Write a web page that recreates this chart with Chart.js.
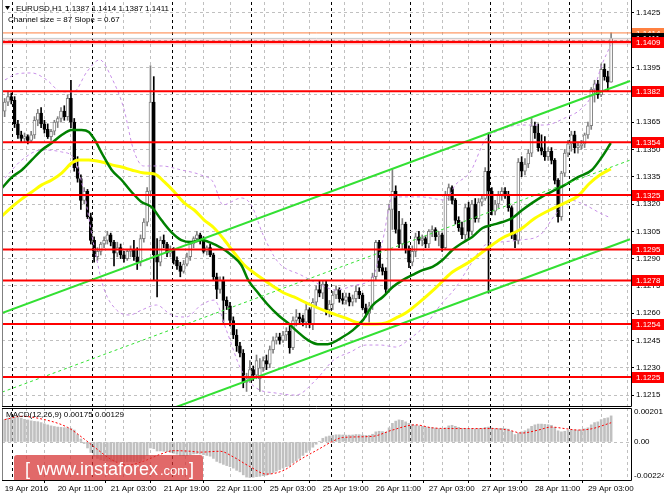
<!DOCTYPE html>
<html><head><meta charset="utf-8">
<script src="https://cdn.jsdelivr.net/npm/chart.js@4.4.1/dist/chart.umd.min.js"></script>
<style>
html,body{margin:0;padding:0;background:#fff;overflow:hidden}
#wrap{position:relative;width:664px;height:498px;background:#fff}
#c1{position:absolute;left:0;top:0}
#c2{position:absolute;left:0;top:407px}
</style></head><body>
<div id="wrap"><canvas id="c1" width="664" height="407"></canvas><canvas id="c2" width="664" height="91"></canvas></div>
<script>
// ---------- DATA ----------
const tickLabels = ['19 Apr 2016','20 Apr 11:00','21 Apr 03:00','21 Apr 19:00','22 Apr 11:00','25 Apr 03:00','25 Apr 19:00','26 Apr 11:00','27 Apr 03:00','27 Apr 19:00','28 Apr 11:00','29 Apr 03:00'];
const dayBreaks = [5,29,53,77,101,125,149,173];
const priceTicks = [1.1215,1.1230,1.1245,1.1260,1.1275,1.1290,1.1305,1.1320,1.1335,1.1350,1.1365,1.1380,1.1395,1.1410,1.1425];
const levels = [1.1409,1.1382,1.1354,1.1325,1.1295,1.1278,1.1254,1.1225];
const dayHigh = 1.1414;
const bidPrice = 1.1411;

const opens = [
1.1371,1.1376,1.1379,1.1377,1.1364,1.1358,1.1356,1.1357,1.1355,1.1358,
1.1366,1.1370,1.1364,1.1361,1.1357,1.1360,1.1365,1.1367,1.1371,1.1368,
1.1378,1.1365,1.1340,1.1334,1.1322,1.1327,1.1313,1.1300,1.1291,1.1294,
1.1298,1.1300,1.1303,1.1299,1.1293,1.1296,1.1292,1.1290,1.1294,1.1295,
1.1291,1.1288,1.1301,1.1310,1.1327,1.1376,1.1292,1.1288,1.1300,1.1298,
1.1293,1.1295,1.1289,1.1286,1.1283,1.1287,1.1291,1.1298,1.1301,1.1303,
1.1300,1.1294,1.1296,1.1292,1.1280,1.1273,1.1278,1.1267,1.1264,1.1256,
1.1248,1.1242,1.1238,1.1222,1.1224,1.1229,1.1226,1.1224,1.1230,1.1234,
1.1232,1.1240,1.1245,1.1247,1.1245,1.1248,1.1250,1.1241,1.1256,1.1258,
1.1257,1.1255,1.1262,1.1254,1.1266,1.1273,1.1271,1.1276,1.1262,1.1265,
1.1270,1.1273,1.1268,1.1267,1.1269,1.1266,1.1268,1.1272,1.1270,1.1263,
1.1260,1.1264,1.1280,1.1299,1.1285,1.1283,1.1273,1.1317,1.1327,1.1306,
1.1298,1.1309,1.1295,1.1288,1.1294,1.1302,1.1300,1.1301,1.1298,1.1305,
1.1306,1.1302,1.1303,1.1296,1.1325,1.1329,1.1322,1.1311,1.1307,1.1303,
1.1318,1.1305,1.1320,1.1312,1.1321,1.1323,1.1338,1.1327,1.1316,1.1320,
1.1325,1.1327,1.1325,1.1318,1.1303,1.1300,1.1343,1.1338,1.1342,1.1348,
1.1363,1.1359,1.1351,1.1349,1.1346,1.1349,1.1344,1.1333,1.1313,1.1337,
1.1348,1.1353,1.1358,1.1351,1.1352,1.1353,1.1358,1.1363,1.1383,1.1386,
1.1380,1.1394,1.1390,1.1387];
const highs = [
1.1378,1.1382,1.1381,1.1379,1.1366,1.1360,1.1359,1.1358,1.1360,1.1368,
1.1372,1.1373,1.1366,1.1364,1.1361,1.1366,1.1368,1.1373,1.1374,1.1380,
1.1388,1.1367,1.1346,1.1336,1.1329,1.1328,1.1315,1.1302,1.1296,1.1299,
1.1302,1.1305,1.1304,1.1300,1.1299,1.1298,1.1294,1.1295,1.1297,1.1300,
1.1296,1.1303,1.1312,1.1329,1.1396,1.1390,1.1301,1.1302,1.1303,1.1299,
1.1297,1.1296,1.1291,1.1288,1.1289,1.1293,1.1299,1.1302,1.1305,1.1304,
1.1302,1.1297,1.1298,1.1293,1.1282,1.1280,1.1280,1.1269,1.1266,1.1258,
1.1251,1.1244,1.1240,1.1227,1.1234,1.1231,1.1237,1.1235,1.1236,1.1237,
1.1242,1.1247,1.1249,1.1249,1.1250,1.1252,1.1253,1.1258,1.1262,1.1260,
1.1259,1.1266,1.1263,1.1268,1.1275,1.1278,1.1278,1.1278,1.1267,1.1272,
1.1275,1.1274,1.1271,1.1271,1.1271,1.1270,1.1275,1.1274,1.1271,1.1265,
1.1266,1.1282,1.1300,1.1300,1.1287,1.1285,1.1320,1.1339,1.1330,1.1316,
1.1312,1.1310,1.1297,1.1297,1.1304,1.1305,1.1303,1.1302,1.1306,1.1308,
1.1307,1.1305,1.1304,1.1327,1.1331,1.1330,1.1323,1.1313,1.1310,1.1320,
1.1321,1.1322,1.1323,1.1323,1.1325,1.1340,1.1359,1.1329,1.1322,1.1327,
1.1329,1.1329,1.1327,1.1319,1.1305,1.1345,1.1346,1.1345,1.1350,1.1367,
1.1365,1.1364,1.1358,1.1357,1.1351,1.1351,1.1345,1.1334,1.1338,1.1350,
1.1355,1.1360,1.1360,1.1354,1.1355,1.1359,1.1365,1.1384,1.1388,1.1388,
1.1397,1.1397,1.1393,1.1414];
const lows = [
1.1368,1.1374,1.1375,1.1362,1.1356,1.1354,1.1354,1.1353,1.1354,1.1356,
1.1363,1.1362,1.1359,1.1356,1.1355,1.1358,1.1362,1.1365,1.1366,1.1366,
1.1362,1.1338,1.1332,1.1317,1.1320,1.1312,1.1298,1.1288,1.1289,1.1292,
1.1296,1.1298,1.1297,1.1286,1.1291,1.1290,1.1288,1.1289,1.1291,1.1289,
1.1284,1.1286,1.1299,1.1308,1.1325,1.1278,1.1269,1.1286,1.1296,1.1291,
1.1291,1.1287,1.1284,1.1280,1.1282,1.1286,1.1289,1.1296,1.1299,1.1298,
1.1293,1.1292,1.1291,1.1278,1.1268,1.1271,1.1255,1.1262,1.1253,1.1246,
1.1239,1.1236,1.1219,1.1217,1.1222,1.1223,1.1224,1.1217,1.1228,1.1229,
1.1230,1.1238,1.1243,1.1243,1.1244,1.1245,1.1238,1.1240,1.1253,1.1254,
1.1253,1.1252,1.1252,1.1251,1.1264,1.1269,1.1268,1.1259,1.1258,1.1262,
1.1268,1.1266,1.1265,1.1265,1.1264,1.1264,1.1266,1.1268,1.1262,1.1258,
1.1255,1.1262,1.1278,1.1283,1.1281,1.1271,1.1272,1.1306,1.1304,1.1296,
1.1295,1.1293,1.1285,1.1286,1.1291,1.1298,1.1297,1.1296,1.1296,1.1302,
1.1300,1.1297,1.1294,1.1295,1.1322,1.1320,1.1309,1.1305,1.1301,1.1300,
1.1301,1.1303,1.1310,1.1310,1.1319,1.1322,1.1271,1.1314,1.1314,1.1318,
1.1322,1.1323,1.1316,1.1301,1.1296,1.1298,1.1335,1.1336,1.1340,1.1346,
1.1356,1.1349,1.1347,1.1344,1.1344,1.1342,1.1331,1.1310,1.1311,1.1335,
1.1346,1.1349,1.1348,1.1348,1.1350,1.1351,1.1356,1.1361,1.1376,1.1378,
1.1379,1.1388,1.1382,1.1387];
const closes = [
1.1376,1.1379,1.1377,1.1364,1.1358,1.1356,1.1357,1.1355,1.1358,1.1366,
1.1370,1.1364,1.1361,1.1357,1.1360,1.1365,1.1367,1.1371,1.1368,1.1378,
1.1365,1.1340,1.1334,1.1322,1.1327,1.1313,1.1300,1.1291,1.1294,1.1298,
1.1300,1.1303,1.1299,1.1293,1.1296,1.1292,1.1290,1.1294,1.1295,1.1291,
1.1288,1.1301,1.1310,1.1327,1.1376,1.1292,1.1288,1.1300,1.1298,1.1293,
1.1295,1.1289,1.1286,1.1283,1.1287,1.1291,1.1298,1.1301,1.1303,1.1300,
1.1294,1.1296,1.1292,1.1280,1.1273,1.1278,1.1267,1.1264,1.1256,1.1248,
1.1242,1.1238,1.1222,1.1224,1.1229,1.1226,1.1234,1.1230,1.1234,1.1232,
1.1240,1.1245,1.1247,1.1245,1.1248,1.1250,1.1241,1.1256,1.1258,1.1257,
1.1255,1.1262,1.1254,1.1266,1.1273,1.1271,1.1276,1.1262,1.1265,1.1270,
1.1273,1.1268,1.1267,1.1269,1.1266,1.1268,1.1272,1.1270,1.1263,1.1260,
1.1264,1.1280,1.1299,1.1285,1.1283,1.1273,1.1317,1.1327,1.1306,1.1298,
1.1309,1.1295,1.1288,1.1294,1.1302,1.1300,1.1301,1.1298,1.1305,1.1306,
1.1302,1.1303,1.1296,1.1325,1.1329,1.1322,1.1311,1.1307,1.1303,1.1318,
1.1305,1.1320,1.1312,1.1321,1.1323,1.1338,1.1327,1.1316,1.1320,1.1325,
1.1327,1.1325,1.1318,1.1303,1.1300,1.1343,1.1338,1.1342,1.1348,1.1363,
1.1359,1.1351,1.1349,1.1346,1.1349,1.1344,1.1333,1.1313,1.1337,1.1348,
1.1353,1.1358,1.1351,1.1352,1.1353,1.1358,1.1363,1.1383,1.1386,1.1380,
1.1394,1.1390,1.1387,1.1411];

// moving averages and bands: [bar index, price]
const maGreen = [[-0.8,1.13288],[2.2,1.13348],[5.2,1.13387],[8.2,1.13442],[11.2,1.13497],[14.2,1.13535],[17.2,1.13579],[20.2,1.13607],[23.2,1.13607],[25.4,1.13596],[27.2,1.13552],[29.3,1.13480],[32.3,1.13387],[35.3,1.13332],[38.3,1.13266],[41.3,1.13211],[44.3,1.13184],[47.3,1.13112],[50.3,1.13046],[53.3,1.13002],[56.3,1.12991],[59.3,1.13002],[62.3,1.12986],[65.4,1.12958],[68.4,1.12920],[71.4,1.12865],[73.5,1.12782],[76.5,1.12711],[79.5,1.12645],[82.5,1.12590],[85.5,1.12546],[88.5,1.12496],[91.5,1.12452],[94.5,1.12430],[97.5,1.12430],[102.0,1.12469],[105.1,1.12507],[108.1,1.12562],[111.1,1.12645],[114.1,1.12689],[117.1,1.12744],[120.1,1.12782],[123.1,1.12810],[126.1,1.12837],[129.1,1.12854],[132.1,1.12892],[135.1,1.12947],[138.1,1.12986],[141.1,1.13019],[144.2,1.13068],[147.2,1.13085],[150.2,1.13101],[153.2,1.13123],[156.2,1.13167],[159.2,1.13206],[163.1,1.13250],[166.1,1.13277],[169.1,1.13305],[173.0,1.13348],[177.2,1.13387],[180.2,1.13458],[182.9,1.13535]];
const maYellow = [[-0.8,1.13134],[2.2,1.13184],[5.2,1.13228],[8.2,1.13266],[11.2,1.13305],[14.2,1.13332],[17.2,1.13370],[20.2,1.13425],[22.3,1.13442],[25.4,1.13442],[29.3,1.13431],[32.3,1.13415],[35.3,1.13403],[38.3,1.13387],[42.2,1.13370],[45.2,1.13365],[48.2,1.13321],[51.2,1.13266],[54.2,1.13206],[57.2,1.13167],[60.2,1.13112],[63.2,1.13068],[66.3,1.13002],[69.3,1.12931],[72.3,1.12865],[75.3,1.12821],[78.3,1.12782],[81.3,1.12744],[84.3,1.12711],[87.3,1.12689],[92.4,1.12645],[98.4,1.12601],[103.0,1.12573],[106.0,1.12551],[109.0,1.12540],[112.0,1.12540],[115.0,1.12546],[118.0,1.12573],[121.0,1.12601],[125.2,1.12661],[130.0,1.12738],[135.1,1.12826],[140.2,1.12881],[145.0,1.12947],[150.2,1.13013],[155.3,1.13057],[160.1,1.13123],[165.2,1.13173],[169.1,1.13206],[173.0,1.13244],[176.3,1.13310],[179.6,1.13359],[182.9,1.13392]];
const bandUpper = [[0.1,1.13882],[3.7,1.13915],[8.2,1.13920],[12.7,1.13882],[17.2,1.13816],[20.8,1.13816],[24.8,1.13926],[28.7,1.13992],[32.3,1.13893],[35.9,1.13728],[38.9,1.13497],[41.9,1.13409],[47.3,1.13409],[53.3,1.13387],[59.3,1.13359],[62.9,1.13321],[65.9,1.13195],[71.4,1.13233],[74.4,1.13195],[78.0,1.13030],[82.5,1.12881],[89.4,1.12810],[95.4,1.12755],[100.0,1.12727],[106.0,1.12755],[111.1,1.12799],[114.1,1.13002],[117.1,1.13239],[125.5,1.13239],[133.0,1.13222],[136.0,1.13305],[140.5,1.13376],[145.0,1.13552],[149.6,1.13607],[155.6,1.13634],[163.1,1.13634],[169.1,1.13673],[173.6,1.13717],[177.2,1.13799],[180.2,1.13964],[182.9,1.14074]];
const bandLower = [[0.1,1.13343],[5.2,1.13442],[11.2,1.13497],[17.2,1.13486],[20.8,1.13453],[23.8,1.13277],[26.9,1.12975],[29.9,1.12738],[33.8,1.12617],[37.7,1.12590],[41.3,1.12617],[45.8,1.12645],[50.3,1.12590],[54.8,1.12579],[59.3,1.12645],[63.2,1.12672],[66.9,1.12507],[71.4,1.12288],[75.9,1.12189],[81.9,1.12161],[87.9,1.12150],[93.9,1.12233],[99.3,1.12343],[104.4,1.12387],[109.0,1.12425],[113.5,1.12425],[118.0,1.12414],[122.5,1.12463],[127.0,1.12535],[131.5,1.12645],[136.0,1.12738],[140.5,1.12865],[145.0,1.12975],[149.6,1.12991],[155.6,1.13002],[161.6,1.13030],[166.1,1.13140],[170.6,1.13222],[175.1,1.13195],[179.6,1.13151],[182.9,1.13123]];
// regression channel (size 87, slope 0.67)
const channelUpper = [[-0.8,1.12601],[188.7,1.13876]];
const channelMiddle = [[-0.8,1.12166],[188.7,1.13441]];
const channelLower = [[-0.8,1.11731],[188.7,1.13006]];

const macdHist = [
0.00150,0.00160,0.00165,0.00168,0.00165,0.00160,0.00152,0.00148,0.00142,0.00138,
0.00136,0.00130,0.00122,0.00115,0.00108,0.00104,0.00100,0.00098,0.00096,0.00095,
0.00092,0.00080,0.00050,0.00020,-0.00010,-0.00040,-0.00070,-0.00095,-0.00110,-0.00120,
-0.00125,-0.00128,-0.00130,-0.00132,-0.00133,-0.00134,-0.00133,-0.00132,-0.00131,-0.00132,
-0.00134,-0.00130,-0.00115,-0.00090,-0.00040,-0.00045,-0.00060,-0.00060,-0.00062,-0.00065,
-0.00070,-0.00075,-0.00082,-0.00090,-0.00092,-0.00090,-0.00085,-0.00080,-0.00078,-0.00080,
-0.00085,-0.00090,-0.00095,-0.00110,-0.00130,-0.00140,-0.00150,-0.00158,-0.00165,-0.00175,
-0.00190,-0.00200,-0.00220,-0.00235,-0.00238,-0.00236,-0.00232,-0.00230,-0.00226,-0.00222,
-0.00215,-0.00205,-0.00195,-0.00185,-0.00175,-0.00165,-0.00160,-0.00140,-0.00125,-0.00110,
-0.00090,-0.00070,-0.00055,-0.00035,-0.00015,0.00005,0.00025,0.00035,0.00040,0.00045,
0.00048,0.00048,0.00047,0.00046,0.00046,0.00047,0.00050,0.00049,0.00046,0.00044,
0.00045,0.00052,0.00068,0.00072,0.00070,0.00066,0.00095,0.00125,0.00140,0.00148,
0.00145,0.00135,0.00125,0.00118,0.00112,0.00108,0.00105,0.00100,0.00098,0.00096,
0.00093,0.00090,0.00085,0.00095,0.00108,0.00112,0.00105,0.00098,0.00092,0.00092,
0.00088,0.00090,0.00088,0.00090,0.00092,0.00098,0.00100,0.00094,0.00090,0.00090,
0.00091,0.00090,0.00086,0.00072,0.00050,0.00060,0.00068,0.00075,0.00088,0.00105,
0.00115,0.00120,0.00120,0.00118,0.00116,0.00112,0.00098,0.00075,0.00068,0.00072,
0.00078,0.00082,0.00082,0.00080,0.00082,0.00088,0.00095,0.00115,0.00130,0.00135,
0.00150,0.00158,0.00162,0.00175];
const macdSignal = [[0,0.00150],[5,0.00172],[11,0.00155],[19,0.00098],[24,0.00020],[28,-0.00050],[32,-0.00115],[37,-0.00155],[42,-0.00128],[47,-0.00082],[51,-0.00058],[56,-0.00062],[59,-0.00068],[65,-0.00062],[69,-0.00100],[74,-0.00165],[79,-0.00215],[84,-0.00192],[89,-0.00120],[95,-0.00045],[99,0.00005],[102,0.00030],[111,0.00038],[117,0.00080],[124,0.00115],[129,0.00095],[135,0.00090],[147,0.00090],[152,0.00080],[156,0.00060],[161,0.00080],[165,0.00100],[169,0.00090],[173,0.00080],[177,0.00088],[183,0.00129]];
const macdTicks = [-0.00224, 0, 0.00201];

// ---------- HELPERS ----------
const FONT = 'Liberation Sans';
const X_MIN = -0.8, X_MAX = 189;
const gridTicks = [];
for (let v = 0; v <= 184; v += 8) gridTicks.push(v);
dayBreaks.forEach(v => { if (!gridTicks.includes(v)) gridTicks.push(v); });
gridTicks.sort((a, b) => a - b);
const pts = arr => arr.map(p => ({x: p[0], y: p[1]}));
const isBull = i => closes[i] >= opens[i];
const noPad = s => { s.paddingTop = 0; s.paddingBottom = 0; s.paddingLeft = 0; s.paddingRight = 0; };

function xScale(withLabels) {
  return {
    type: 'linear', min: X_MIN, max: X_MAX, offset: false,
    afterBuildTicks: s => { s.ticks = gridTicks.map(v => ({value: v})); },
    afterFit: s => { s.height = withLabels ? 18 : 0; noPad(s); },
    ticks: withLabels ? {
      display: true, autoSkip: false, maxRotation: 0, minRotation: 0, align: 'start', padding: 1,
      color: '#000', font: {family: FONT, size: 8},
      callback: v => (v % 16 === 0 && v / 16 < tickLabels.length) ? tickLabels[v / 16] : ''
    } : {display: false},
    grid: {
      drawTicks: withLabels, tickLength: 3, tickWidth: 1,
      tickColor: ctx => (ctx.tick && ctx.tick.value % 16 === 0) ? '#000' : 'rgba(0,0,0,0)',
      color: ctx => (ctx.tick && dayBreaks.includes(ctx.tick.value)) ? '#000000' : '#c0c0c0',
      lineWidth: 1
    },
    border: {display: false, dash: [3, 3]}
  };
}

const framePlugin = {
  id: 'frame',
  afterDraw(chart) {
    const {ctx, chartArea: a} = chart;
    ctx.save();
    ctx.lineWidth = 1;
    ctx.strokeStyle = '#808080';
    ctx.beginPath(); ctx.moveTo(a.left + 0.5, chart.options.isMacd ? a.top : 0); ctx.lineTo(a.left + 0.5, a.bottom); ctx.stroke();
    ctx.strokeStyle = '#000';
    ctx.beginPath();
    if (chart.options.isMacd) { ctx.moveTo(a.left, a.top + 0.5); ctx.lineTo(a.right + 0.5, a.top + 0.5); }
    else { ctx.moveTo(a.right + 0.5, 0); }
    ctx.lineTo(a.right + 0.5, a.bottom + 0.5); ctx.lineTo(a.left, a.bottom + 0.5);
    ctx.stroke();
    ctx.restore();
  }
};

const mainLabels = {
  id: 'mainLabels',
  afterDraw(chart) {
    const {ctx} = chart;
    const y = chart.scales.y;
    ctx.save();
    ctx.font = '8px "' + FONT + '"';
    ctx.textBaseline = 'middle';
    const box = (price, bg, fg) => {
      const py = Math.round(y.getPixelForValue(price));
      ctx.fillStyle = bg; ctx.fillRect(632, py - 5, 32, 11);
      ctx.fillStyle = fg; ctx.fillText(price.toFixed(4), 636, py + 0.5);
    };
    box(dayHigh, '#ff8040', '#ffffff');
    box(bidPrice, '#000000', '#ffffff');
    levels.forEach(l => box(l, '#ff0000', '#ffffff'));
    // header
    ctx.fillStyle = '#000';
    ctx.beginPath(); ctx.moveTo(5, 6); ctx.lineTo(10, 6); ctx.lineTo(7.5, 10); ctx.closePath(); ctx.fill();
    ctx.fillText('EURUSD,H1', 16, 8.5);
    ctx.fillText([opens[183], highs[183], lows[183], closes[183]].map(v => v.toFixed(4)).join(' '), 65, 8.5);
    ctx.fillText('Channel size = 87 Slope = 0.67', 8, 19.5);
    ctx.restore();
  }
};

const macdLabels = {
  id: 'macdLabels',
  afterDraw(chart) {
    const {ctx} = chart;
    ctx.save();
    ctx.font = '8px "' + FONT + '"';
    ctx.textBaseline = 'middle';
    ctx.fillStyle = '#000';
    ctx.fillText('MACD(12,26,9) ' + macdHist[183].toFixed(5) + ' ' + macdSignal[macdSignal.length - 1][1].toFixed(5), 6, 7.5);
    // watermark
    const x0 = 14, y0 = 48, w = 189, h = 25, r = 3;
    ctx.fillStyle = 'rgba(214,52,52,0.74)';
    ctx.beginPath();
    ctx.moveTo(x0 + r, y0); ctx.lineTo(x0 + w - r, y0); ctx.quadraticCurveTo(x0 + w, y0, x0 + w, y0 + r);
    ctx.lineTo(x0 + w, y0 + h); ctx.lineTo(x0, y0 + h); ctx.lineTo(x0, y0 + r); ctx.quadraticCurveTo(x0, y0, x0 + r, y0);
    ctx.closePath(); ctx.fill();
    ctx.fillStyle = '#ffffff';
    ctx.textBaseline = 'alphabetic';
    ctx.font = '18px "' + FONT + '"';
    ctx.fillText('[', 25, 68);
    ctx.fillText('www.instaforex', 37, 68);
    ctx.font = '13px "' + FONT + '"';
    ctx.fillText('.com', 160, 68);
    ctx.font = '18px "' + FONT + '"';
    ctx.fillText(']', 189, 68);
    ctx.restore();
  }
};

const lineDs = (data, color, width, order, extra) => Object.assign({
  type: 'line', data: pts(data), borderColor: color, borderWidth: width,
  pointRadius: 0, fill: false, order: order
}, extra || {});

// ---------- MAIN CHART ----------
const mainDatasets = [];
levels.forEach(l => mainDatasets.push(lineDs([[X_MIN - 1, l], [X_MAX + 1, l]], '#ff0000', 2, 0)));
mainDatasets.push(lineDs([[X_MIN - 1, levels[0]], [X_MAX + 1, levels[0]]], 'rgba(255,0,0,0.22)', 5, 0.5));
mainDatasets.push(lineDs([[X_MIN - 1, dayHigh], [X_MAX + 1, dayHigh]], '#ff8040', 1, 0));
mainDatasets.push(lineDs([[X_MIN - 1, bidPrice], [X_MAX + 1, bidPrice]], '#c8c8c8', 1, 0.6));
mainDatasets.push(lineDs(channelUpper, '#33e033', 2, 1));
mainDatasets.push(lineDs(channelLower, '#33e033', 2, 1));
mainDatasets.push(lineDs(channelMiddle, '#33e033', 1, 1, {borderDash: [3, 3]}));
mainDatasets.push(lineDs(maGreen, '#008000', 2.5, 2, {cubicInterpolationMode: 'monotone'}));
mainDatasets.push(lineDs(maYellow, '#ffff00', 3, 2, {cubicInterpolationMode: 'monotone'}));
mainDatasets.push(lineDs(bandUpper, '#c890e8', 1, 3, {borderDash: [3, 3], cubicInterpolationMode: 'monotone'}));
mainDatasets.push(lineDs(bandLower, '#c890e8', 1, 3, {borderDash: [3, 3], cubicInterpolationMode: 'monotone'}));
mainDatasets.push({
  type: 'bar', order: 4, grouped: false, barThickness: 3, minBarLength: 1,
  data: opens.map((o, i) => ({x: i, y: [o, closes[i]]})),
  backgroundColor: ctx => isBull(ctx.dataIndex) ? '#ffffff' : '#000000',
  borderColor: ctx => isBull(ctx.dataIndex) ? '#808080' : '#000000',
  borderWidth: 1, borderSkipped: false
});
mainDatasets.push({
  type: 'bar', order: 5, grouped: false, barThickness: 1,
  data: lows.map((l, i) => ({x: i, y: [l, highs[i]]})),
  backgroundColor: ctx => isBull(ctx.dataIndex) ? '#808080' : '#000000',
  borderWidth: 0
});

new Chart(document.getElementById('c1'), {
  type: 'bar',
  data: {datasets: mainDatasets},
  options: {
    responsive: false, animation: false, devicePixelRatio: 1,
    layout: {padding: {left: 2, top: 2, right: 0, bottom: 1}},
    plugins: {legend: {display: false}, tooltip: {enabled: false}},
    events: [],
    scales: {
      x: xScale(false),
      y: {
        position: 'right', min: 1.12090, max: 1.14310,
        afterBuildTicks: s => { s.ticks = priceTicks.map(v => ({value: v})); },
        afterFit: s => { s.width = 33; noPad(s); },
        ticks: {font: {family: FONT, size: 8}, color: '#000', padding: 2, callback: v => v.toFixed(4)},
        grid: {color: '#c0c0c0', tickLength: 3, tickColor: '#000', lineWidth: 1},
        border: {display: false, dash: [3, 3]}
      }
    }
  },
  plugins: [framePlugin, mainLabels]
});

// ---------- MACD CHART ----------
new Chart(document.getElementById('c2'), {
  type: 'bar',
  data: {datasets: [
    lineDs(macdSignal, '#ff0000', 1, 0, {borderDash: [2, 2], cubicInterpolationMode: 'monotone'}),
    {type: 'bar', order: 1, grouped: false, barThickness: 2,
     data: macdHist.map((v, i) => ({x: i, y: v})),
     backgroundColor: '#c0c0c0', borderWidth: 0}
  ]},
  options: {
    isMacd: true,
    responsive: false, animation: false, devicePixelRatio: 1,
    layout: {padding: {left: 2, top: 1, right: 0, bottom: 0}},
    plugins: {legend: {display: false}, tooltip: {enabled: false}},
    events: [],
    scales: {
      x: xScale(true),
      y: {
        position: 'right', min: -0.002546, max: 0.002278,
        afterBuildTicks: s => { s.ticks = macdTicks.map(v => ({value: v})); },
        afterFit: s => { s.width = 33; noPad(s); },
        ticks: {font: {family: FONT, size: 8}, color: '#000', padding: 3, callback: v => v === 0 ? '0.00' : v.toFixed(5)},
        grid: {drawTicks: false, color: ctx => (ctx.tick && ctx.tick.value === 0) ? '#c0c0c0' : 'rgba(0,0,0,0)', lineWidth: 1},
        border: {display: false, dash: [3, 3]}
      }
    }
  },
  plugins: [framePlugin, macdLabels]
});
</script>
</body></html>
